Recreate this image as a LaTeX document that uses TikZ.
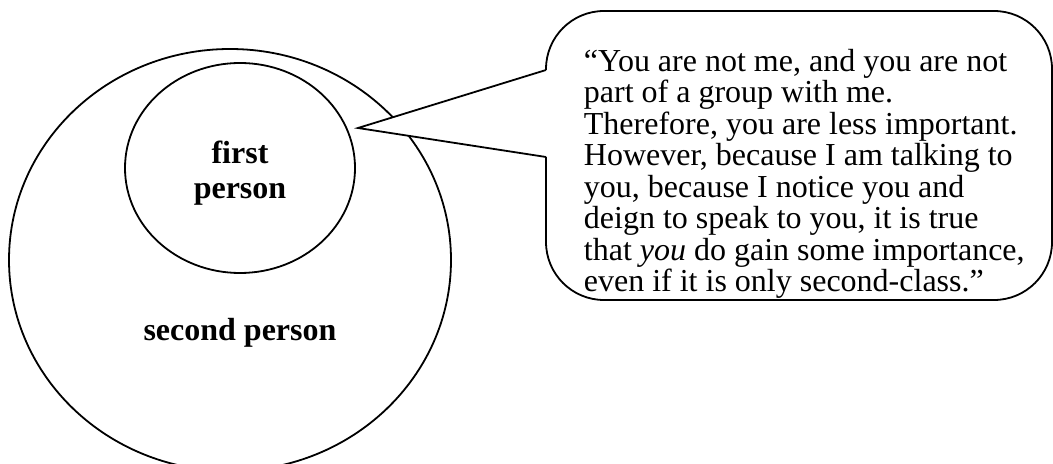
\documentclass[tikz,border=0pt]{standalone}
\usepackage{fontspec}
\setmainfont{Liberation Serif}
\usetikzlibrary{shapes.geometric}
\begin{document}
\begin{tikzpicture}[x=0.5pt,y=-0.5pt,line width=0.9pt,line join=miter,
  ring/.style={draw,ellipse,inner sep=0pt},
  lbl/.style={font=\fontsize{16}{17.5}\selectfont\bfseries,align=center,inner sep=0pt},
  quote/.style={font=\fontsize{16}{15.75}\selectfont,align=left,inner sep=0pt,anchor=north west},
  bubble/.style={draw,rounded corners=29pt}]
\useasboundingbox (0,0) rectangle (1053,464);
\clip (0,0) rectangle (1053,464);
% circles
\node[ring,minimum width=221pt,minimum height=211pt] (second) at (230,260) {};
\node[ring,minimum width=115pt,minimum height=105pt] (first) at (240,168) {};
\node[lbl,anchor=north] (firstlbl) at (240,140) {first\\person};
\node[lbl,anchor=base] (secondlbl) at (240,340) {second person};
% callout
\coordinate (tip) at (358,128);
\coordinate (up) at (546,70);
\coordinate (lo) at (546,157);
\fill[white] (up) -- (tip) -- (lo) -- cycle;
\fill[white,rounded corners=29pt] (546,11) rectangle (1052,300);
\draw[bubble] (up) -- (546,11) -- (1052,11) -- (1052,300) -- (546,300) -- (lo);
\draw (up) -- (tip) -- (lo);
\node[quote] (q) at (583,48) {“You are not me, and you are not\\
part of a group with me.\\
Therefore, you are less important.\\
However, because I am talking to\\
you, because I notice you and\\
deign to speak to you, it is true\\
that \textit{you} do gain some importance,\\
even if it is only second-class.”};
\end{tikzpicture}
\end{document}
